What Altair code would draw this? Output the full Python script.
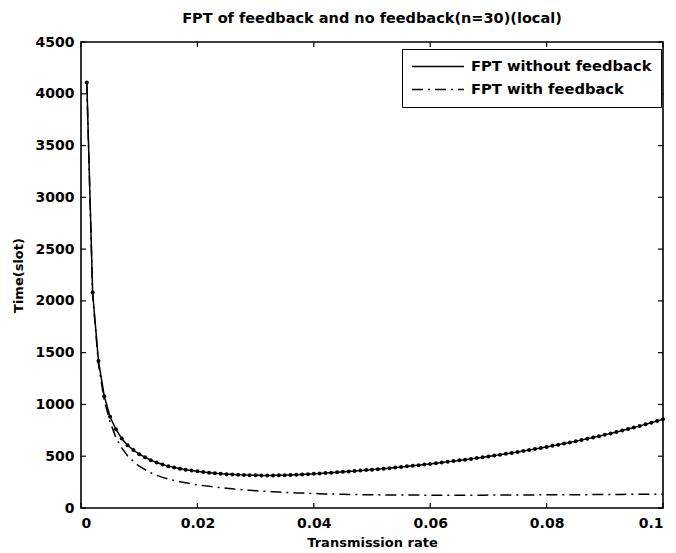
import altair as alt
import pandas as pd

rate = [0.001, 0.002, 0.003, 0.004, 0.005, 0.006, 0.007, 0.008, 0.009, 0.010,
        0.011, 0.012, 0.013, 0.014, 0.015, 0.016, 0.017, 0.018, 0.019, 0.020,
        0.021, 0.022, 0.023, 0.024, 0.025, 0.026, 0.027, 0.028, 0.029, 0.030,
        0.031, 0.032, 0.033, 0.034, 0.035, 0.036, 0.037, 0.038, 0.039, 0.040,
        0.041, 0.042, 0.043, 0.044, 0.045, 0.046, 0.047, 0.048, 0.049, 0.050,
        0.051, 0.052, 0.053, 0.054, 0.055, 0.056, 0.057, 0.058, 0.059, 0.060,
        0.061, 0.062, 0.063, 0.064, 0.065, 0.066, 0.067, 0.068, 0.069, 0.070,
        0.071, 0.072, 0.073, 0.074, 0.075, 0.076, 0.077, 0.078, 0.079, 0.080,
        0.081, 0.082, 0.083, 0.084, 0.085, 0.086, 0.087, 0.088, 0.089, 0.090,
        0.091, 0.092, 0.093, 0.094, 0.095, 0.096, 0.097, 0.098, 0.099, 0.100]

fpt_without = [4110, 2080, 1420, 1080, 880, 760, 670, 605, 560, 520,
               490, 462, 440, 420, 404, 392, 380, 370, 362, 354,
               347, 341, 336, 331, 327, 324, 321, 319, 317, 316,
               315, 315, 315, 316, 317, 319, 321, 324, 327, 330,
               333, 337, 341, 345, 349, 353, 357, 361, 366, 370,
               375, 380, 385, 390, 396, 402, 408, 414, 420, 426,
               432, 439, 446, 453, 460, 467, 474, 482, 490, 498,
               506, 514, 523, 532, 541, 550, 560, 570, 580, 590,
               600, 611, 622, 633, 645, 657, 669, 681, 694, 707,
               720, 734, 748, 762, 777, 792, 808, 824, 840, 857]

fpt_with = [4100, 2060, 1390, 1040, 830, 680, 580, 505, 450, 405,
            370, 340, 316, 296, 280, 266, 254, 243, 233, 224,
            216, 209, 202, 196, 190, 185, 180, 175, 171, 167,
            163, 160, 157, 154, 151, 148, 146, 144, 142, 140,
            138, 136, 135, 134, 132, 131, 130, 129, 128, 127,
            127, 126, 126, 126, 125, 125, 125, 125, 124, 124,
            124, 124, 124, 124, 124, 124, 124, 124, 124, 125,
            125, 125, 125, 125, 126, 126, 126, 126, 127, 127,
            127, 128, 128, 128, 129, 129, 129, 130, 130, 130,
            131, 131, 131, 132, 132, 132, 133, 133, 133, 134]

series_names = ["FPT without feedback", "FPT with feedback"]
x_ticks = [0, 0.02, 0.04, 0.06, 0.08, 0.1]
y_ticks = [0, 500, 1000, 1500, 2000, 2500, 3000, 3500, 4000, 4500]

W, H = 582, 466
FONT = "DejaVu Sans"

df = pd.DataFrame({
    "rate": rate * 2,
    "time": fpt_without + fpt_with,
    "series": [series_names[0]] * len(rate) + [series_names[1]] * len(rate),
})
df_dots = pd.DataFrame({"rate": rate, "time": fpt_without})
df_xt = pd.DataFrame({"rate": x_ticks})
df_yt = pd.DataFrame({"time": y_ticks})

xscale = alt.Scale(domain=[0, 0.1], nice=False, zero=False)
yscale = alt.Scale(domain=[0, 4500], nice=False)

x_axis = alt.Axis(values=x_ticks, format="~g", title="Transmission rate",
                  ticks=False, domain=False, grid=False,
                  labelPadding=8, titlePadding=6)
y_axis = alt.Axis(values=y_ticks, format="d", title="Time(slot)",
                  ticks=False, domain=False, grid=False,
                  labelPadding=7, titlePadding=10)

lines = alt.Chart(df).mark_line(strokeWidth=1.5, color="black").encode(
    x=alt.X("rate:Q", scale=xscale, axis=x_axis),
    y=alt.Y("time:Q", scale=yscale, axis=y_axis),
    strokeDash=alt.StrokeDash(
        "series:N",
        scale=alt.Scale(domain=series_names, range=[[1, 0], [11, 5, 2, 5]]),
        legend=alt.Legend(title=None, orient="none", legendX=321, legendY=7,
                          symbolType="stroke", symbolSize=2704, clipHeight=17,
                          rowPadding=6, padding=9, labelOffset=6,
                          symbolStrokeColor="black", symbolStrokeWidth=1.4,
                          strokeColor="black", fillColor="white",
                          labelFont=FONT, labelFontSize=14.7, labelFontWeight="bold",
                          labelColor="black", labelLimit=400),
    ),
    detail="series:N",
)

dots = alt.Chart(df_dots).mark_circle(size=16, color="black", opacity=1).encode(
    x=alt.X("rate:Q", scale=xscale, axis=x_axis),
    y=alt.Y("time:Q", scale=yscale, axis=y_axis),
)

tick_len = 5
xt_bottom = alt.Chart(df_xt).mark_rule(color="black", strokeWidth=1.2).encode(
    x=alt.X("rate:Q", scale=xscale, axis=x_axis),
    y=alt.value(H), y2=alt.value(H - tick_len))
xt_top = alt.Chart(df_xt).mark_rule(color="black", strokeWidth=1.2).encode(
    x=alt.X("rate:Q", scale=xscale, axis=x_axis),
    y=alt.value(0), y2=alt.value(tick_len))
yt_left = alt.Chart(df_yt).mark_rule(color="black", strokeWidth=1.2).encode(
    y=alt.Y("time:Q", scale=yscale, axis=y_axis),
    x=alt.value(0), x2=alt.value(tick_len))
yt_right = alt.Chart(df_yt).mark_rule(color="black", strokeWidth=1.2).encode(
    y=alt.Y("time:Q", scale=yscale, axis=y_axis),
    x=alt.value(W - tick_len), x2=alt.value(W))

chart = alt.layer(lines, dots, xt_bottom, xt_top, yt_left, yt_right).properties(
    width=W, height=H,
    autosize=alt.AutoSizeParams(type="none"),
    padding={"left": 73, "top": 34, "right": 5, "bottom": 42},
    title=alt.TitleParams("FPT of feedback and no feedback(n=30)(local)",
                          font=FONT, fontSize=14.5, fontWeight="bold",
                          color="black", offset=9, anchor="middle"),
    background="white",
).configure_view(
    stroke="black", strokeWidth=1.6
).configure_axis(
    labelFont=FONT, labelFontSize=14, labelFontWeight="bold", labelColor="black",
    titleFont=FONT, titleFontSize=13, titleFontWeight="bold", titleColor="black",
)

chart.save("out.html", embed_options={"renderer": "svg", "actions": False})
